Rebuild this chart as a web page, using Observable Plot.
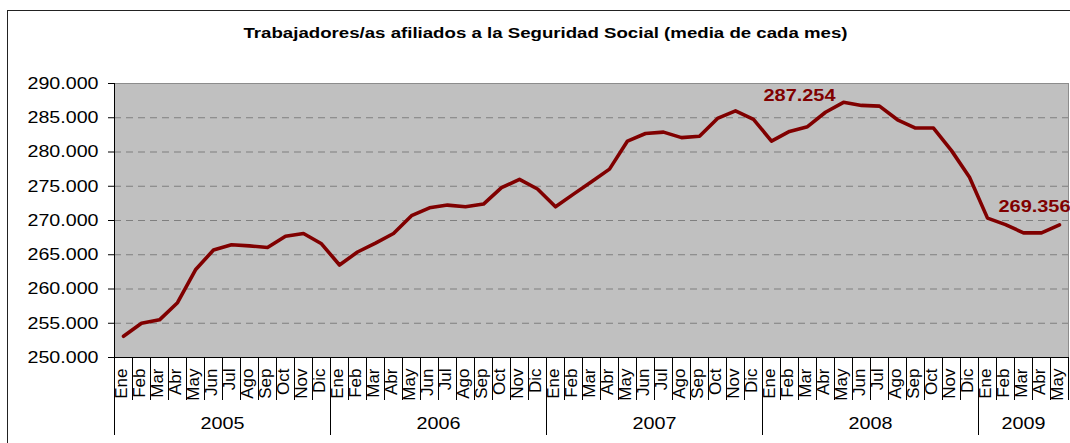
<!DOCTYPE html>
<html>
<head>
<meta charset="utf-8">
<script src="https://cdn.jsdelivr.net/npm/d3@7"></script>
<script src="https://cdn.jsdelivr.net/npm/@observablehq/plot@0.6"></script>
<style>
  html, body { margin: 0; padding: 0; background: #fff; }
  #wrap { position: relative; width: 1070px; height: 443px; overflow: hidden; background: #fff; }
  #border { position: absolute; left: 7px; top: 10px; width: 1200px; height: 600px; border: 1px solid #222; box-sizing: border-box; }
  #chart { position: absolute; left: 0; top: 0; }
  #chart svg { font-family: "Liberation Sans", Arial, sans-serif; }
</style>
</head>
<body>
<div id="wrap">
  <div id="border"></div>
  <div id="chart"></div>
</div>
<script>
const titulo = "Trabajadores/as afiliados a la Seguridad Social (media de cada mes)";
const meses = ["Ene","Feb","Mar","Abr","May","Jun","Jul","Ago","Sep","Oct","Nov","Dic"];
const anios = ["2005","2006","2007","2008","2009"];
const afiliados = [
  253100, 255000, 255500, 258000, 262800, 265700, 266450, 266300, 266050, 267700, 268100, 266600,
  263500, 265400, 266700, 268100, 270700, 271850, 272250, 272000, 272400, 274800, 276000, 274600,
  272000, 273850, 275650, 277500, 281600, 282700, 282900, 282100, 282300, 284900, 286000, 284750,
  281600, 283000, 283700, 285800, 287254, 286800, 286700, 284700, 283500, 283500, 280200, 276300,
  270350, 269400, 268200, 268200, 269356
];
const yTicks = [250000, 255000, 260000, 265000, 270000, 275000, 280000, 285000, 290000];
const etiquetaMax = 40;   // índice de May 2008
const etiquetaFin = 52;   // índice de May 2009

const fmt = d3.formatLocale({decimal: ",", thousands: ".", grouping: [3], currency: ["", "€"]}).format(",.0f");

const data = afiliados.map((v, i) => ({i, v, mes: meses[i % 12], anio: anios[Math.floor(i / 12)]}));
const yearData = Array.from(d3.group(data, d => d.anio), ([anio, arr]) => ({anio, mid: d3.mean(arr, d => d.i)}));
const n = data.length;
const monthSeps = d3.range(n + 1).map(k => k - 0.5);
const yearSeps = yearData.map(y => data.find(d => d.anio === y.anio).i - 0.5);
const gridTicks = yTicks.slice(1, -1);
const etiquetas = data.filter(d => d.i === etiquetaMax || d.i === etiquetaFin);

const chart = Plot.plot({
  width: 1070,
  height: 443,
  marginLeft: 114,
  marginRight: 2,
  marginTop: 83,
  marginBottom: 86,
  style: {background: "transparent", overflow: "visible", fontFamily: "Liberation Sans, Arial, sans-serif"},
  x: {type: "linear", domain: [-0.5, n - 0.5], axis: null},
  y: {type: "linear", domain: [yTicks[0], yTicks[yTicks.length - 1]], axis: null},
  marks: [
    Plot.frame({fill: "#c0c0c0", stroke: "#8c8c8c"}),
    Plot.gridY(gridTicks, {stroke: "#7f7f7f", strokeOpacity: 1, strokeWidth: 1, strokeDasharray: "7 5"}),
    Plot.ruleX([-0.5], {stroke: "#000", strokeWidth: 1}),
    Plot.ruleY([yTicks[0]], {stroke: "#000", strokeWidth: 1}),
    Plot.axisY(yTicks, {anchor: "left", tickSize: 6, tickPadding: 10, tickFormat: fmt, fontSize: 16.5, label: null}),
    Plot.axisX(monthSeps, {anchor: "bottom", tickSize: 43, tickFormat: () => "", label: null}),
    Plot.axisX(yearSeps, {anchor: "bottom", tickSize: 78, tickFormat: () => "", label: null}),
    Plot.line(data, {x: "i", y: "v", stroke: "#800000", strokeWidth: 3.6, strokeLinejoin: "round"}),
    Plot.text(data, {x: "i", text: "mes", frameAnchor: "bottom", rotate: -90, textAnchor: "end", lineAnchor: "middle", dy: 11, dx: -1.7, fontSize: 17, fill: "#000"}),
    Plot.text(yearData, {x: "mid", text: "anio", frameAnchor: "bottom", lineAnchor: "middle", dy: 66, fontSize: 16.5, fill: "#000"}),
    Plot.text(etiquetas.filter(d => d.i === etiquetaMax), {x: "i", y: "v", text: d => fmt(d.v), textAnchor: "end", lineAnchor: "bottom", dx: -8, dy: -1, fill: "#800000", fontWeight: "bold", fontSize: 16}),
    Plot.text(etiquetas.filter(d => d.i === etiquetaFin), {x: "i", y: "v", text: d => fmt(d.v), textAnchor: "start", lineAnchor: "bottom", dx: -61, dy: -12.5, fill: "#800000", fontWeight: "bold", fontSize: 16}),
    Plot.text([titulo], {frameAnchor: "top-left", dx: 431, dy: -50, textAnchor: "middle", lineAnchor: "middle", fontWeight: "bold", fontSize: 14.5, fill: "#000"})
  ]
});

document.getElementById("chart").appendChild(chart);
const svg = d3.select(chart);
const tickLabels = new Set(yTicks.map(fmt));
const yearLabels = new Set(anios);
const annLabels = new Set(etiquetas.map(d => fmt(d.v)));
// The reference's text is drawn horizontally stretched: fit each label to its measured width.
svg.selectAll("text").each(function() {
  const t = this.textContent;
  const s = d3.select(this);
  let len = null;
  if (t === titulo) len = 604;
  else if (annLabels.has(t)) len = 72;
  else if (tickLabels.has(t)) len = 71;
  else if (yearLabels.has(t)) len = 44;
  if (len !== null) s.attr("textLength", len).attr("lengthAdjust", "spacingAndGlyphs");
});
</script>
</body>
</html>
